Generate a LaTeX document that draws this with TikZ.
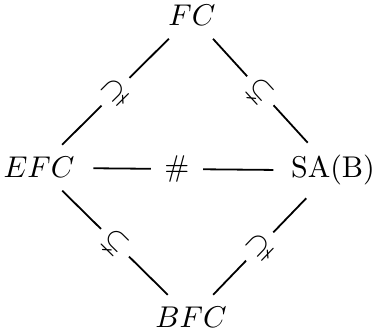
\documentclass[tikz,border=0pt]{standalone}
\usepackage{amssymb}
\tikzset{
  obj/.style={anchor=base, inner sep=3.33pt},
  link/.style={line width=0.6pt, shorten <=1pt, shorten >=1pt},
  incl/.style={sloped, fill=white, inner sep=2.6pt, pos=0.5},
  hashlbl/.style={fill=white, inner sep=4.5pt, pos=0.47},
}
\begin{document}
\begin{tikzpicture}[x=0.3333pt,y=-0.3333pt]
\useasboundingbox (0,0) rectangle (378,336);
\node[obj] (FC)  at (192,26)  {$FC$};
\node[obj] (EFC) at (39,178)  {$EFC$};
\node[obj] (SA)  at (333,178) {SA(B)};
\node[obj] (BFC) at (191,328) {$BFC$};
\draw[link] (EFC) -- node[incl] (s1) {$\supsetneq$} (FC);
\draw[link] (FC) -- node[incl] (s2) {$\subsetneq$} (SA);
\draw[link] (EFC) -- node[incl] (s3) {$\subsetneq$} (BFC);
\draw[link] (BFC) -- node[incl] (s4) {$\supsetneq$} (SA);
\draw[link, shorten <=2.8pt, shorten >=2.4pt] (EFC) -- node[hashlbl] (h) {$\#$} (SA);
\end{tikzpicture}
\end{document}
